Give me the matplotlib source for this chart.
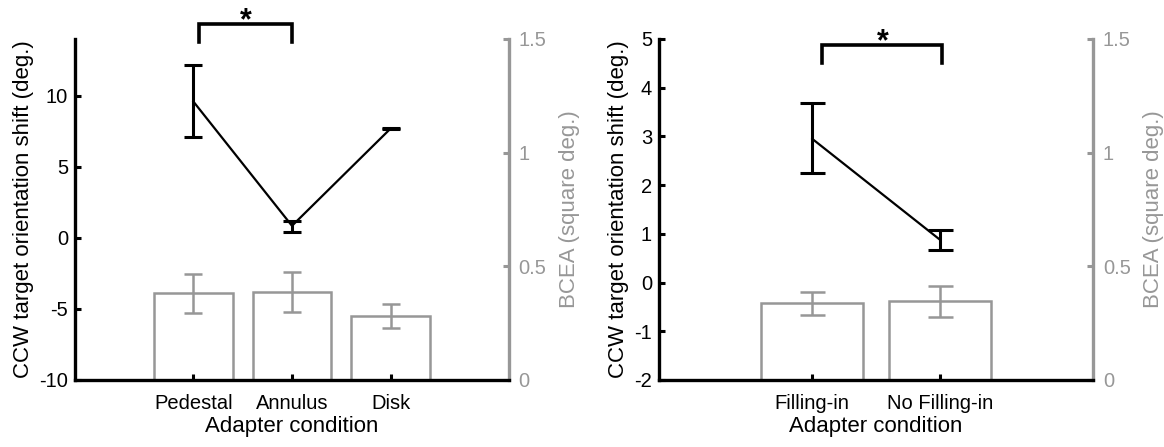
import matplotlib
matplotlib.use("Agg")
import matplotlib.pyplot as plt

plt.rcParams["font.family"] = ["Liberation Sans", "DejaVu Sans"]
plt.rcParams["axes.unicode_minus"] = False

# Panel A: adapter shape
cond_a = ["Pedestal", "Annulus", "Disk"]
shift_a = [9.6, 0.85, 7.7]
shift_a_lo = [7.1, 0.4, 7.65]
shift_a_hi = [12.2, 1.2, 7.75]
bcea_a = [0.383, 0.387, 0.28]
bcea_a_lo = [0.295, 0.30, 0.229]
bcea_a_hi = [0.466, 0.475, 0.334]

# Panel B: filling-in
cond_b = ["Filling-in", "No Filling-in"]
shift_b = [2.95, 0.88]
shift_b_lo = [2.24, 0.66]
shift_b_hi = [3.69, 1.07]
bcea_b = [0.339, 0.348]
bcea_b_lo = [0.286, 0.277]
bcea_b_hi = [0.387, 0.414]

gray = "#979797"
fs_tick = 14.5
fs_lab = 16


def panel(rect, conds, shift, lo, hi, bcea, blo, bhi,
          ylim, yticks, sig, sig_y, cap):
    ax = fig.add_axes(rect)
    ax2 = ax.twinx()
    x = list(range(1, len(conds) + 1))

    # BCEA bars on the right axis
    ax2.bar(x, bcea, width=0.8, facecolor="white", edgecolor=gray, lw=1.8)
    ax2.errorbar(x, bcea,
                 yerr=[[b - l for b, l in zip(bcea, blo)],
                       [h - b for b, h in zip(bcea, bhi)]],
                 fmt="none", ecolor=gray, elinewidth=1.8,
                 capsize=cap, capthick=1.8)

    # orientation shift line
    ax.errorbar(x, shift,
                yerr=[[s - l for s, l in zip(shift, lo)],
                      [h - s for s, h in zip(shift, hi)]],
                color="black", lw=1.6, elinewidth=2.2,
                capsize=cap, capthick=2.2, zorder=5)
    ax.set_zorder(ax2.get_zorder() + 1)
    ax.patch.set_visible(False)

    # significance bracket
    x1, x2 = sig
    ytop, ybot = sig_y
    ax.plot([x1, x1, x2, x2], [ybot, ytop, ytop, ybot], color="black",
            lw=2.6, clip_on=False, solid_joinstyle="miter")
    ax.annotate("*", ((x1 + x2) / 2, ytop), xytext=(0, 2),
                textcoords="offset points", ha="center", va="center",
                fontsize=22, fontweight="bold", annotation_clip=False)

    ax.set_xlim(-0.2, len(conds) + 1.2)
    ax.set_ylim(*ylim)
    ax.set_yticks(yticks)
    ax.set_yticklabels([str(t) for t in yticks])
    ax.set_xticks(x)
    ax.set_xticklabels(conds)
    ax2.set_ylim(0, 1.5)
    ax2.set_yticks([0, 0.5, 1, 1.5])
    ax2.set_yticklabels(["0", "0.5", "1", "1.5"])

    for s in ["top", "right"]:
        ax.spines[s].set_visible(False)
    for s in ["top", "left", "bottom"]:
        ax2.spines[s].set_visible(False)
    ax.spines["left"].set_linewidth(2.4)
    ax.spines["bottom"].set_linewidth(2.4)
    ax2.spines["right"].set_linewidth(2.4)
    ax2.spines["right"].set_color(gray)

    ax.tick_params(axis="both", direction="in", width=2.2, length=4,
                   labelsize=fs_tick, colors="black")
    ax.tick_params(axis="x", pad=10)
    ax.tick_params(axis="y", pad=5)
    ax2.tick_params(axis="y", direction="in", width=2.2, length=4.5,
                    labelsize=fs_tick, colors=gray, pad=7)

    ax.set_xlabel("Adapter condition", fontsize=fs_lab, labelpad=2)
    ax.set_ylabel("CCW target orientation shift (deg.)", fontsize=fs_lab,
                  labelpad=4)
    ax2.set_ylabel("BCEA (square deg.)", fontsize=fs_lab, color=gray,
                   labelpad=9)
    return ax


fig = plt.figure(figsize=(11.64, 4.47), dpi=100)

panel([0.0644, 0.1499, 0.3729, 0.7629], cond_a, shift_a, shift_a_lo,
      shift_a_hi, bcea_a, bcea_a_lo, bcea_a_hi,
      (-10, 14), [-10, -5, 0, 5, 10], (1.06, 2.0), (15.07, 13.8), 6.5)

panel([0.5662, 0.1499, 0.3729, 0.7629], cond_b, shift_b, shift_b_lo,
      shift_b_hi, bcea_b, bcea_b_lo, bcea_b_hi,
      (-2, 5), [-2, -1, 0, 1, 2, 3, 4, 5], (1.08, 2.02), (4.88, 4.51), 9)

fig.savefig("out.png", dpi=100)
